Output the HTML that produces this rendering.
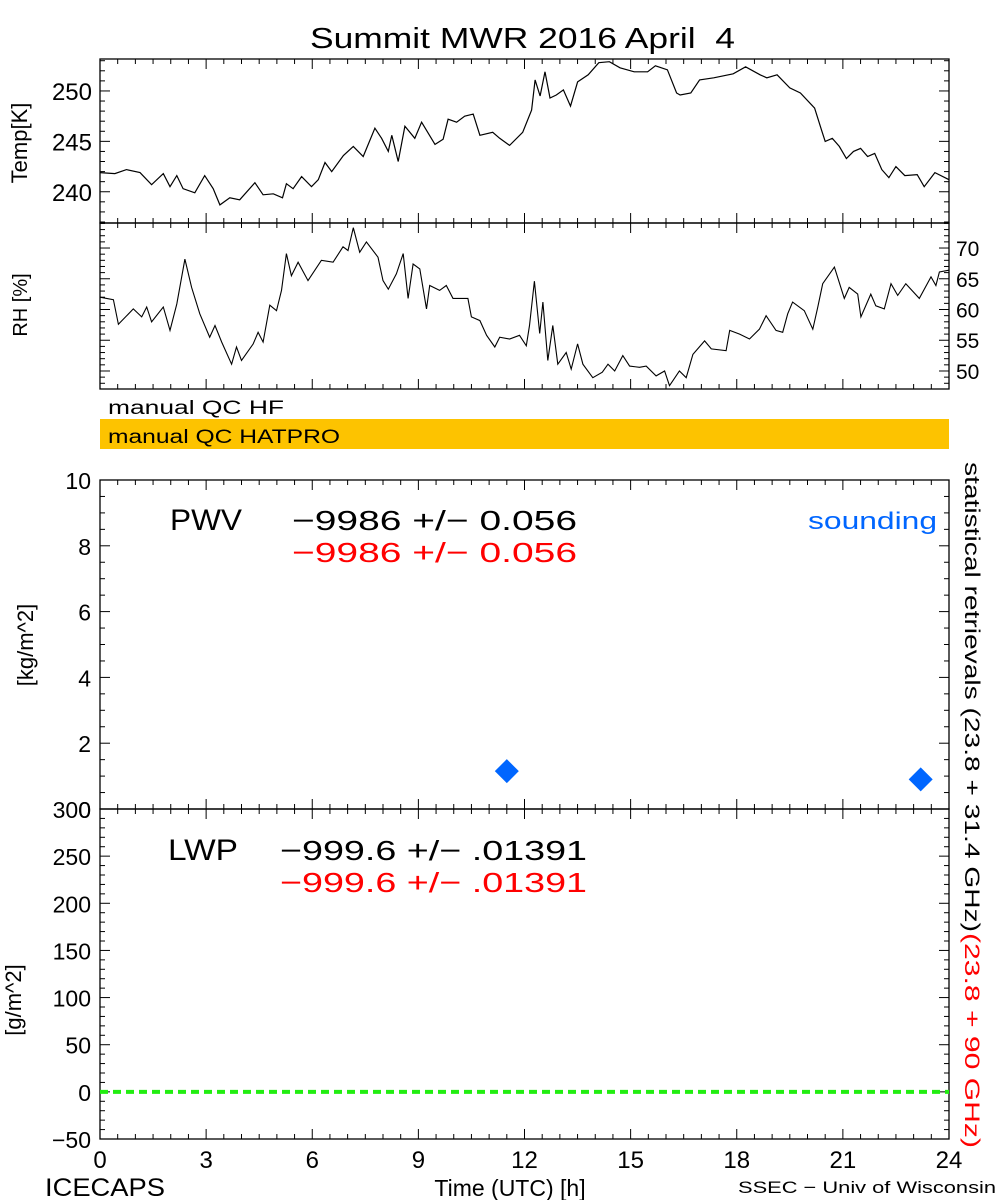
<!DOCTYPE html>
<html><head><meta charset="utf-8"><style>
html,body{margin:0;padding:0;background:#fff;}
svg{display:block;font-family:"Liberation Sans",sans-serif;}
</style></head><body>
<svg id="chart" width="1000" height="1200" viewBox="0 0 1000 1200">
<rect width="1000" height="1200" fill="#fff"/>
<text x="310" y="48" font-size="29" textLength="425" lengthAdjust="spacingAndGlyphs" xml:space="preserve">Summit MWR 2016 April  4</text>
<text x="108" y="414" font-size="19" textLength="176" lengthAdjust="spacingAndGlyphs">manual  QC  HF</text>
<rect x="100" y="419" width="849" height="30" fill="#fdc300"/>
<text x="108" y="443" font-size="19" textLength="232" lengthAdjust="spacingAndGlyphs">manual  QC  HATPRO</text>
<g id="axes"></g>
<text transform="translate(27,143) rotate(-90)" font-size="22" text-anchor="middle">Temp[K]</text>
<text transform="translate(27,305) rotate(-90)" font-size="20" text-anchor="middle">RH [%]</text>
<text transform="translate(33,645) rotate(-90)" font-size="22" text-anchor="middle">[kg/m^2]</text>
<text transform="translate(21,1000) rotate(-90)" font-size="22" text-anchor="middle">[g/m^2]</text>
<text x="170" y="530" font-size="30" textLength="72" lengthAdjust="spacingAndGlyphs">PWV</text>
<text x="292" y="530" font-size="28" textLength="285" lengthAdjust="spacingAndGlyphs">−9986 +/− 0.056</text>
<text x="292" y="562" font-size="28" fill="#ff0000" textLength="285" lengthAdjust="spacingAndGlyphs">−9986 +/− 0.056</text>
<text x="808" y="529" font-size="24" fill="#0066ff" textLength="129" lengthAdjust="spacingAndGlyphs">sounding</text>
<text x="168" y="860" font-size="30" textLength="70" lengthAdjust="spacingAndGlyphs">LWP</text>
<text x="280" y="860" font-size="28" textLength="307" lengthAdjust="spacingAndGlyphs">−999.6 +/− .01391</text>
<text x="280" y="892" font-size="28" fill="#ff0000" textLength="307" lengthAdjust="spacingAndGlyphs">−999.6 +/− .01391</text>
<text transform="translate(965,462) rotate(90)" font-size="21" textLength="470" lengthAdjust="spacingAndGlyphs">statistical retrievals (23.8 + 31.4 GHz)</text>
<text transform="translate(965,933) rotate(90)" font-size="21" fill="#ff0000" textLength="215" lengthAdjust="spacingAndGlyphs">(23.8 + 90 GHz)</text>
<text x="510" y="1196" font-size="23" text-anchor="middle">Time (UTC) [h]</text>
<text x="45" y="1196" font-size="25" textLength="120" lengthAdjust="spacingAndGlyphs">ICECAPS</text>
<text x="738" y="1193" font-size="17" textLength="258" lengthAdjust="spacingAndGlyphs">SSEC − Univ of Wisconsin</text>
</svg>
<script>
const tempHours=[0,0.42,0.75,1.13,1.46,1.79,1.98,2.17,2.35,2.68,2.96,3.2,3.39,3.67,3.95,4.38,4.61,4.9,5.16,5.27,5.46,5.7,5.98,6.17,6.36,6.55,6.88,7.16,7.44,7.77,7.96,8.15,8.25,8.43,8.62,8.9,9.09,9.47,9.7,9.84,10.08,10.31,10.55,10.74,11.1,11.3,11.58,11.95,12.2,12.3,12.44,12.58,12.72,12.9,13.1,13.3,13.5,13.8,14.1,14.4,14.7,15.1,15.48,15.7,16.04,16.3,16.4,16.7,16.95,17.35,17.9,18.25,18.66,18.85,19.14,19.5,19.8,20.2,20.4,20.5,20.7,20.9,21.1,21.3,21.5,21.7,21.9,22.1,22.3,22.5,22.75,23.1,23.3,23.6,24];
const tempValues=[241.9,241.8,242.2,241.9,240.7,241.8,240.5,241.6,240.3,239.9,241.6,240.3,238.7,239.4,239.2,240.9,239.7,239.8,239.4,240.8,240.3,241.5,240.5,241.2,242.9,242.0,243.6,244.5,243.5,246.3,245.3,244.0,245.6,243.0,246.5,245.3,246.9,244.7,245.2,247.2,246.9,247.5,247.7,245.6,245.9,245.3,244.6,245.9,248.1,251.1,249.5,251.9,249.3,249.6,250.1,248.5,250.9,251.6,252.8,252.9,252.3,251.9,251.9,252.5,252.1,249.8,249.6,249.8,251.1,251.3,251.7,252.4,251.6,251.3,251.6,250.3,249.8,248.3,246.1,245.0,245.3,244.5,243.3,244.0,244.3,243.5,243.8,242.2,241.4,242.5,241.6,241.7,240.5,241.9,241.2];
const rhHours=[0,0.38,0.52,0.94,1.18,1.32,1.46,1.79,1.98,2.17,2.4,2.59,2.82,3.1,3.25,3.44,3.72,3.86,4.0,4.33,4.47,4.61,4.8,4.99,5.13,5.27,5.41,5.6,5.88,6.26,6.59,6.87,7.01,7.16,7.34,7.53,7.86,8.0,8.15,8.38,8.57,8.71,8.85,9.04,9.23,9.32,9.6,9.79,9.98,10.4,10.5,10.74,10.93,11.16,11.3,11.58,11.86,12.05,12.14,12.28,12.43,12.52,12.66,12.8,12.94,13.18,13.32,13.5,13.65,13.93,14.2,14.36,14.55,14.78,14.97,15.25,15.44,15.72,15.96,16.1,16.38,16.57,16.76,17.09,17.28,17.7,17.8,18.08,18.36,18.64,18.83,19.11,19.3,19.44,19.58,19.91,20.15,20.29,20.43,20.76,21.04,21.18,21.42,21.51,21.79,21.93,22.17,22.36,22.55,22.78,23.16,23.49,23.63,23.73,24];
const rhValues=[62.0,61.6,57.6,60.1,58.8,60.4,58.0,60.4,56.6,60.9,68.2,63.6,59.3,55.5,57.4,54.7,51.1,53.9,51.7,54.4,56.3,54.7,60.7,59.8,63.1,69.1,65.5,67.7,64.7,68.0,67.7,70.2,69.6,73.3,69.3,71.0,68.5,64.7,63.3,65.8,69.1,61.8,67.4,66.6,60.1,63.9,63.1,63.9,61.8,61.8,58.8,58.2,55.8,53.9,55.5,55.2,55.8,54.1,57.4,64.6,56.1,61.2,51.7,57.4,51.1,53.0,50.3,54.4,51.1,48.9,49.8,51.1,50.0,52.5,50.8,50.6,50.8,49.2,50.0,47.6,50.0,48.9,52.7,54.9,53.6,53.3,56.6,56.0,55.2,56.8,59.0,56.6,56.3,59.3,61.2,59.8,56.8,60.4,64.2,66.9,61.8,63.6,62.5,58.8,62.5,60.6,60.1,64.2,62.3,64.2,61.8,65.3,63.9,66.1,66.4];
const soundingHours=[11.5,23.2];
const soundingPWV=[1.15,0.9];
const lwpHours=[0,24];
const lwpValues=[0,0];
const xTickLabels=["0","3","6","9","12","15","18","21","24"];
const tempTickLabels=["240","245","250"];
const rhTickLabels=["50","55","60","65","70"];
const pwvTickLabels=["0","2","4","6","8","10"];
const lwpTickLabels=["-50","0","50","100","150","200","250","300"];

const NS="http://www.w3.org/2000/svg";
const g=document.getElementById('axes');
const X0=100,X1=949;
const xs=t=>X0+(t/24)*(X1-X0);
function lin(d0,d1,p0,p1){return v=>p0+(v-d0)/(d1-d0)*(p1-p0);}
const panels={
 temp:{y:lin(236.9,253.17,223,59),top:59,bot:223,min:236.9,max:253.17,maj:5,mn:1},
 rh:{y:lin(47.07,74.07,389,223),top:223,bot:389,min:47.07,max:74.07,maj:5,mn:1},
 pwv:{y:lin(0,10,809,480),top:480,bot:809,min:0,max:10,maj:2,mn:0.5},
 lwp:{y:lin(-50,300,1139,809),top:809,bot:1139,min:-50,max:300,maj:50,mn:10}
};
function el(tag,attrs){const e=document.createElementNS(NS,tag);for(const k in attrs)e.setAttribute(k,attrs[k]);g.appendChild(e);return e;}
function line(x1,y1,x2,y2,c,w){return el('line',{x1,y1,x2,y2,stroke:c||'#000','stroke-width':w||1});}
for(const key in panels){
 const p=panels[key];
 const r=el('rect',{x:X0,y:p.top,width:X1-X0,height:p.bot-p.top,fill:'none',stroke:'#000','stroke-width':1.3});
 
 
 for(let t=0;t<=24.001;t+=0.5){
  const L=(Math.abs(t%3)<1e-6)?10:5;
  line(xs(t),p.bot,xs(t),p.bot-L);line(xs(t),p.top,xs(t),p.top+L);
 }
 const start=Math.ceil(p.min/p.mn)*p.mn;
 for(let v=start;v<=p.max+1e-6;v+=p.mn){
  const isMaj=Math.abs(v/p.maj-Math.round(v/p.maj))<1e-6;
  const L=isMaj?10:5;const y=p.y(v);
  line(X0,y,X0+L,y);line(X1,y,X1-L,y);
 }
}
function label(txt,x,y,anchor,size,name){
 const t=el('text',{x,y,'text-anchor':anchor,'font-size':size});t.textContent=txt;
 
 
}
tempTickLabels.forEach(s=>label(s,92,panels.temp.y(+s)+9,'end',24,'temp-tick-label'));
rhTickLabels.forEach(s=>label(s,956,panels.rh.y(+s)+8,'start',21,'rh-tick-label'));
pwvTickLabels.forEach(s=>label(s,91,panels.pwv.y(+s)+9,'end',23,'pwv-tick-label'));
lwpTickLabels.forEach(s=>label(s.replace('-','−'),91,panels.lwp.y(+s)+9,'end',23,'lwp-tick-label'));
xTickLabels.forEach(s=>label(s,xs(+s),1168,'middle',24,'x-tick-label'));
function series(hours,vals,yf,name,attrs){
 const pts=hours.map((h,i)=>xs(h).toFixed(1)+','+yf(vals[i]).toFixed(1)).join(' ');
 const pl=el('polyline',Object.assign({points:pts,fill:'none'},attrs));
 
 
}
series(tempHours,tempValues,panels.temp.y,'temp-line',{stroke:'#000','stroke-width':1.2});
series(rhHours,rhValues,panels.rh.y,'rh-line',{stroke:'#000','stroke-width':1.1});
series(lwpHours,lwpValues,panels.lwp.y,'lwp-zero-line',{stroke:'#22ee11','stroke-width':4,'stroke-dasharray':'8,5'});
soundingHours.forEach((h,i)=>{
 const cx=xs(h),cy=panels.pwv.y(soundingPWV[i]);
 const d=el('polygon',{points:`${cx-12},${cy} ${cx},${cy-12} ${cx+12},${cy} ${cx},${cy+12}`,fill:'#0066ff'});
 
 
});
</script>
</body></html>
